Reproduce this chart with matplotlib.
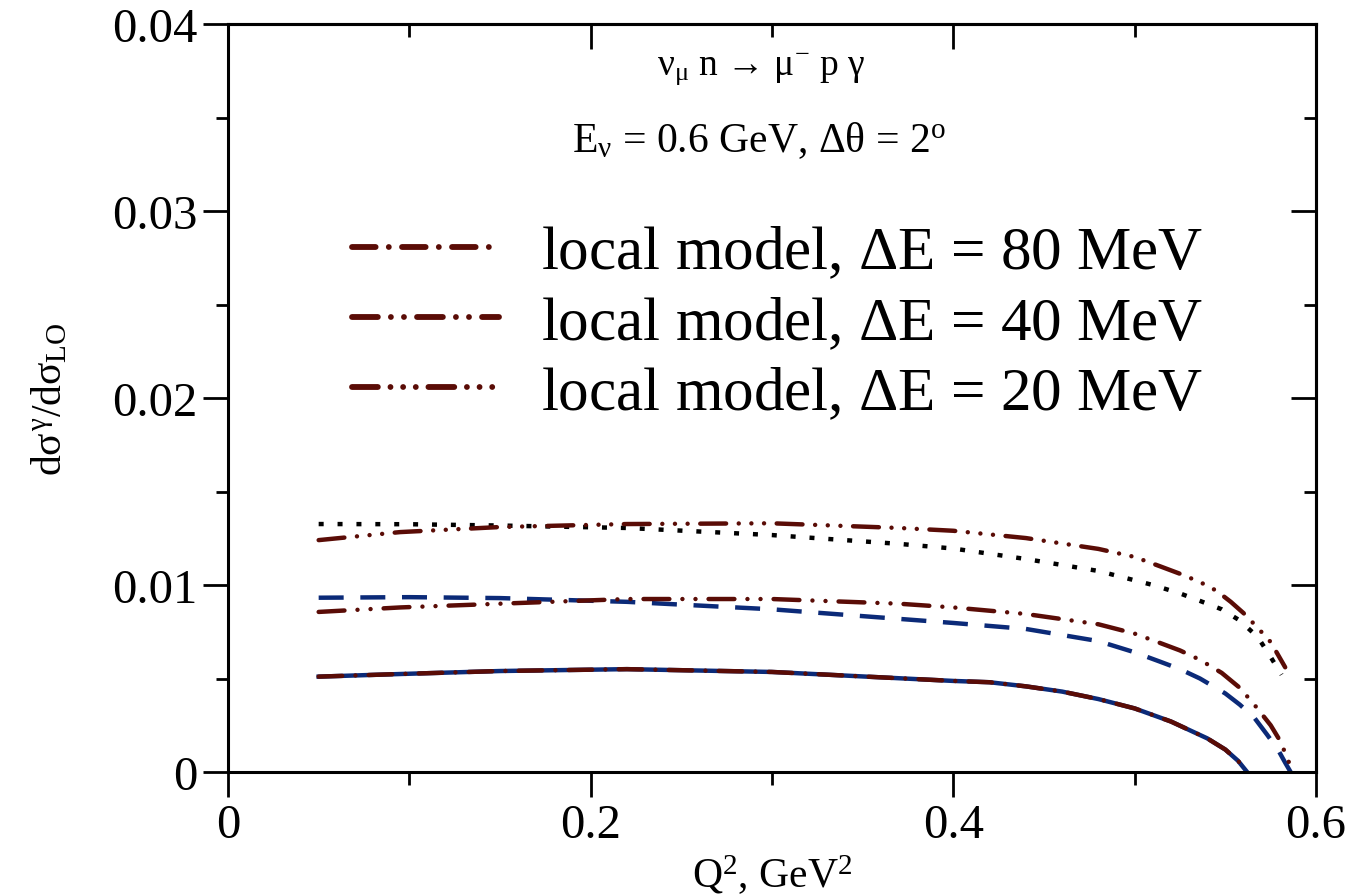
import matplotlib
matplotlib.use("Agg")
import matplotlib.pyplot as plt
from matplotlib.ticker import MultipleLocator

# Q^2 (GeV^2) and d(sigma^gamma)/d(sigma_LO)
q2_dotted = [0.05, 0.10, 0.15, 0.22, 0.30, 0.37, 0.40, 0.44, 0.48, 0.51, 0.525, 0.536, 0.548, 0.558, 0.568,
             0.575, 0.581]
val_dotted = [0.01326, 0.01325, 0.01318, 0.01305, 0.01267, 0.0122, 0.01195, 0.01139, 0.01075, 0.0100, 0.00955,
              0.00915, 0.0087, 0.0081, 0.0072, 0.00615, 0.0052]

q2_dashed = [0.05, 0.10, 0.15, 0.22, 0.30, 0.40, 0.44, 0.48, 0.50, 0.514, 0.525, 0.536, 0.55, 0.558, 0.566,
             0.573, 0.579, 0.583, 0.586]
val_dashed = [0.00932, 0.00935, 0.0093, 0.0091, 0.0087, 0.00797, 0.00765, 0.0070, 0.0064, 0.0059, 0.0055,
              0.0050, 0.0042, 0.0036, 0.0029, 0.0020, 0.0012, 0.0005, 0.0]

q2_solid = [0.05, 0.095, 0.15, 0.22, 0.30, 0.40, 0.42, 0.44, 0.46, 0.48, 0.50, 0.52, 0.54, 0.55, 0.557, 0.562]
val_solid = [0.0051, 0.00524, 0.0054, 0.0055, 0.00535, 0.00487, 0.0048, 0.00458, 0.0043, 0.0039, 0.0034,
             0.0027, 0.0018, 0.0012, 0.0006, 0.0]

q2_local80 = q2_solid
val_local80 = val_solid

q2_local40 = [0.05, 0.095, 0.15, 0.22, 0.30, 0.37, 0.40, 0.44, 0.48, 0.50, 0.514, 0.525, 0.536, 0.548, 0.558,
              0.566, 0.575, 0.580, 0.584, 0.587]
val_local40 = [0.00856, 0.0088, 0.0090, 0.00925, 0.00925, 0.0090, 0.0088, 0.00845, 0.0079, 0.0074, 0.0069,
               0.0065, 0.0060, 0.0053, 0.0045, 0.0036, 0.0025, 0.0017, 0.0008, 0.0]

q2_local20 = [0.05, 0.095, 0.15, 0.22, 0.30, 0.37, 0.40, 0.44, 0.48, 0.50, 0.514, 0.525, 0.536, 0.545, 0.553,
              0.56, 0.567, 0.575, 0.583]
val_local20 = [0.0124, 0.01283, 0.0131, 0.01326, 0.0133, 0.01305, 0.0129, 0.01251, 0.01193, 0.0115, 0.0110,
               0.0106, 0.01016, 0.0097, 0.0091, 0.0085, 0.0078, 0.00695, 0.0056]

labels = ["local model, $\\Delta$E = 80 MeV", "local model, $\\Delta$E = 40 MeV", "local model, $\\Delta$E = 20 MeV"]

BROWN = "#5a0c06"
BLUE = "#0b2a78"

plt.rcParams["font.family"] = ["Liberation Serif", "DejaVu Serif"]
plt.rcParams["mathtext.fontset"] = "custom"
plt.rcParams["mathtext.rm"] = "Liberation Serif"
plt.rcParams["mathtext.it"] = "Liberation Serif"
plt.rcParams["lines.scale_dashes"] = False

fig = plt.figure(figsize=(13.53, 8.95), dpi=100)
ax = fig.add_axes([228 / 1353, 1 - 773 / 895, (1316 - 228) / 1353, (773 - 25) / 895])

lw = 3.2
ax.plot(q2_dotted, val_dotted, color="black", lw=lw, dashes=(3.6, 10), dash_capstyle="butt")
ax.plot(q2_dashed, val_dashed, color=BLUE, lw=lw, dashes=(18, 12), dash_capstyle="butt")
ax.plot(q2_solid, val_solid, color=BLUE, lw=lw)
ax.plot(q2_local80, val_local80, color=BROWN, lw=lw, dashes=(17, 9.5, 0.01, 9.5),
        dash_capstyle="round", label=labels[0])
ax.plot(q2_local40, val_local40, color=BROWN, lw=lw, dashes=(18.6, 9.4, 0.01, 9.4, 0.01, 9.4),
        dash_capstyle="round", label=labels[1])
ax.plot(q2_local20, val_local20, color=BROWN, lw=lw, dashes=(18.6, 9.1, 0.01, 9.1, 0.01, 9.1, 0.01, 9.1),
        dash_capstyle="round", label=labels[2])

ax.set_xlim(0, 0.6)
ax.set_ylim(0, 0.04)
ax.xaxis.set_major_locator(MultipleLocator(0.2))
ax.xaxis.set_minor_locator(MultipleLocator(0.1))
ax.yaxis.set_major_locator(MultipleLocator(0.01))
ax.yaxis.set_minor_locator(MultipleLocator(0.005))
ax.xaxis.set_major_formatter(plt.FuncFormatter(lambda v, p: "0" if v == 0 else f"{v:.1f}"))
ax.yaxis.set_major_formatter(plt.FuncFormatter(lambda v, p: "0" if v == 0 else f"{v:.2f}"))

for s in ax.spines.values():
    s.set_linewidth(2.2)
ax.tick_params(which="major", direction="out", length=18, width=2.0, labelsize=35, pad=4)
ax.tick_params(which="minor", direction="out", length=9, width=2.0)

# inward ticks on top and right
top = ax.secondary_xaxis("top")
top.xaxis.set_major_locator(MultipleLocator(0.2))
top.xaxis.set_minor_locator(MultipleLocator(0.1))
top.tick_params(which="major", direction="in", length=18, width=2.0, labeltop=False)
top.tick_params(which="minor", direction="in", length=9, width=2.0)
top.spines["top"].set_linewidth(2.2)
right = ax.secondary_yaxis("right")
right.yaxis.set_major_locator(MultipleLocator(0.01))
right.yaxis.set_minor_locator(MultipleLocator(0.005))
right.tick_params(which="major", direction="in", length=18, width=2.0, labelright=False)
right.tick_params(which="minor", direction="in", length=9, width=2.0)
right.spines["right"].set_linewidth(2.2)

ax.set_xlabel("Q$^2$, GeV$^2$", fontsize=30, labelpad=4)
ax.set_ylabel("d$\\sigma^{\\gamma}$/d$\\sigma_{\\mathrm{LO}}$", fontsize=30, labelpad=30)

ax.text(0.49, 0.94, "$\\mathrm{\u03bd_{\u03bc}}$ n \u2192 $\\mathrm{\u03bc^{-}}$ p \u03b3", transform=ax.transAxes,
        ha="center", va="center", fontsize=27)
ax.text(0.488, 0.845, "E$_{\\mathrm{\u03bd}}$ = 0.6 GeV, \u0394\u03b8 = 2$^{\\mathrm{o}}$", transform=ax.transAxes,
        ha="center", va="center", fontsize=30)

leg = ax.legend(loc="upper left", bbox_to_anchor=(352 / 1353, 1 - 226 / 895), bbox_transform=fig.transFigure,
                frameon=False, fontsize=44, handlelength=2.4, handletextpad=0.7, labelspacing=0.22,
                borderpad=0, borderaxespad=0)
for line in leg.get_lines():
    line.set_linewidth(4.2)

fig.savefig("out.png", dpi=100)
